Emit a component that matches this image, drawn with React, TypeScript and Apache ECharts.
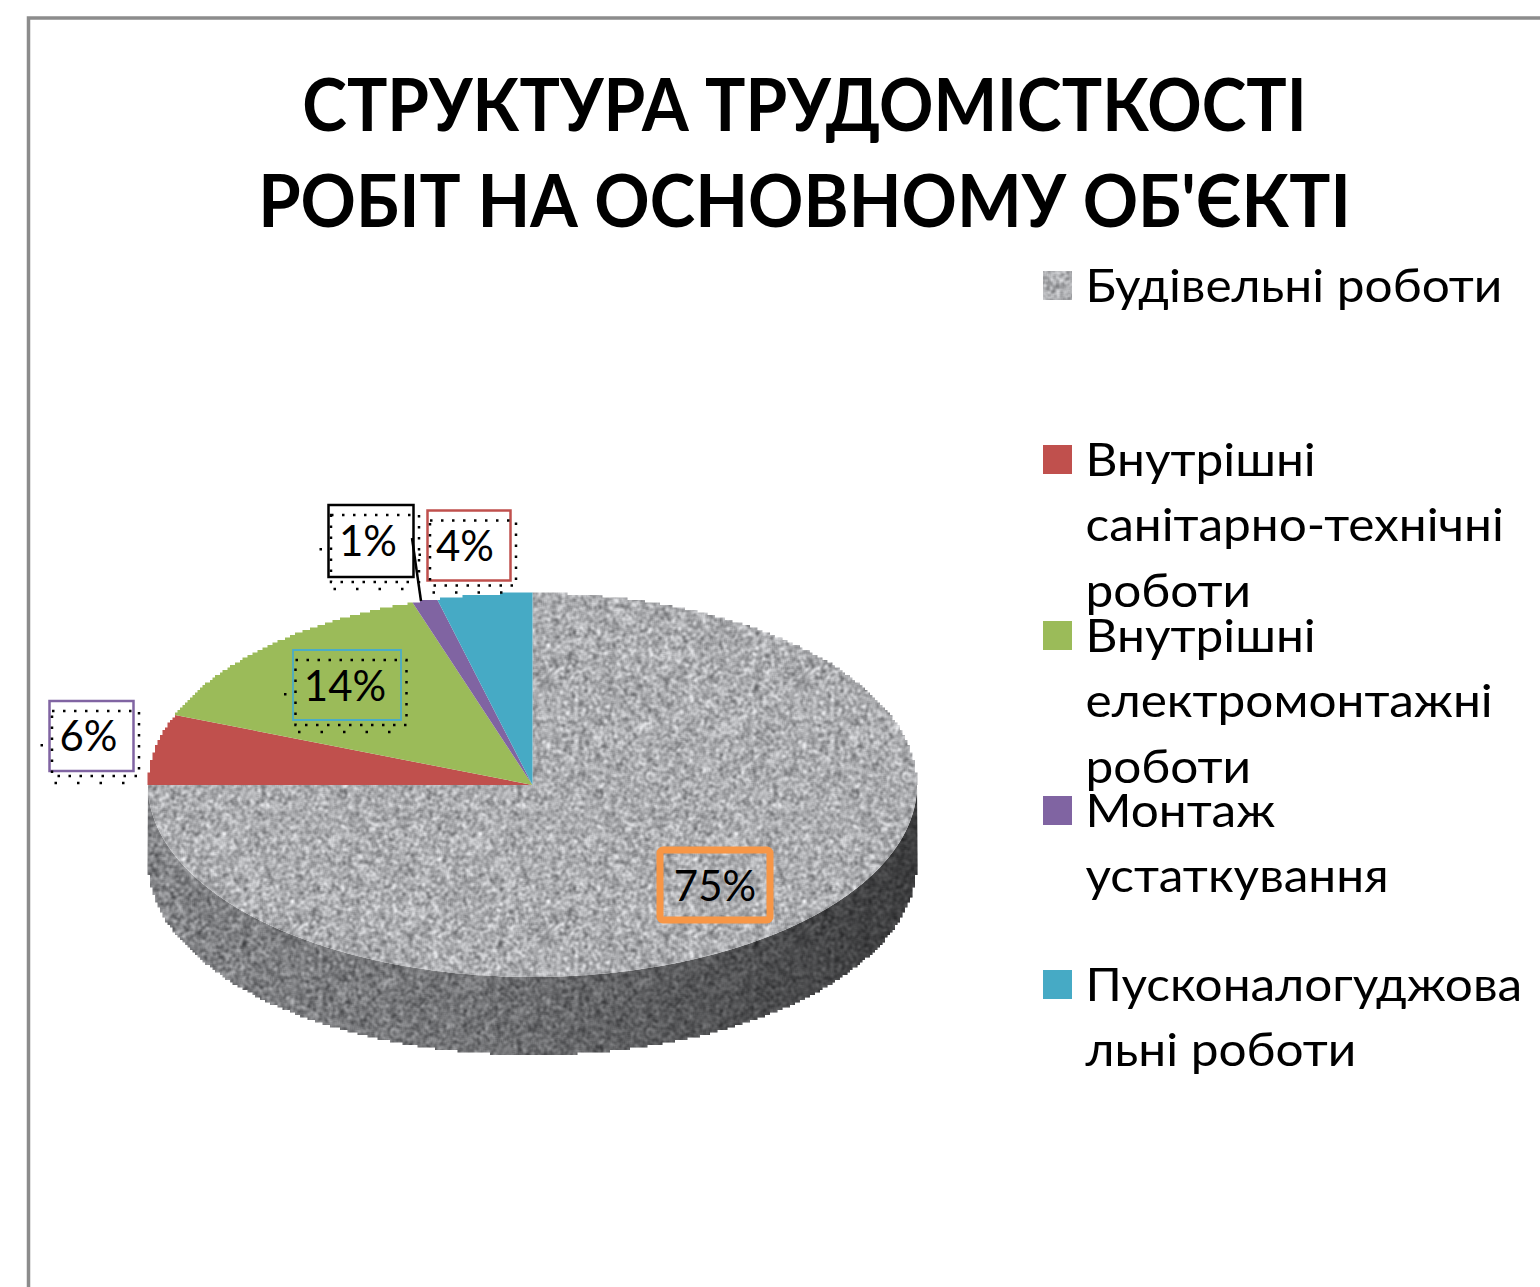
import React, { useEffect, useRef } from "react";
import * as echarts from "echarts";

const titleLines = ["СТРУКТУРА ТРУДОМІСТКОСТІ", "РОБІТ НА ОСНОВНОМУ ОБ'ЄКТІ"];
const categories = [
  ["Будівельні роботи"],
  ["Внутрішні", "санітарно-технічні", "роботи"],
  ["Внутрішні", "електромонтажні", "роботи"],
  ["Монтаж", "устаткування"],
  ["Пусконалогуджова", "льні роботи"],
];
const shares = [75, 6, 14, 1, 4];
const sliceColors = ["#a9abae", "#c0504d", "#9bbb59", "#8064a2", "#46aac5"];

// layout of the 3D pie
const CX = 532.5, CY = 785, RX = 384.5, RY = 192, DEPTH = 78;
// label boxes [x, y, w, h], in the order of shares
const labelBoxes = [
  [660, 850, 110, 70],
  [49.5, 701, 84, 70],
  [293, 650, 108, 70],
  [328.5, 505, 85, 72],
  [427.5, 510.5, 83, 70],
];
const labelStroke = ["#f79646", "#8064a2", "#4bacc6", "#000000", "#c0504d"];
const labelStrokeW = [7, 2.5, 1.8, 2.5, 2.5];
const labelOffset = [[0, 0], [-3, -1], [-2, 0], [-3, -1], [-4, -1]];

const legendTop = [271, 445, 621, 796, 970];
const legendLineStep = 65.5;

function noiseUrl(size: number, mean: number, spread: number, passes: number) {
  const n = size * size;
  let a = new Float32Array(n);
  let s = 0x2f6e2b1;
  for (let i = 0; i < n; i++) {
    s ^= s << 13; s ^= s >>> 17; s ^= s << 5;
    a[i] = ((s >>> 0) % 1000) / 1000;
  }
  for (let p = 0; p < passes; p++) {
    const b = new Float32Array(n);
    for (let y = 0; y < size; y++) for (let x = 0; x < size; x++) {
      let t = 0;
      for (let dy = -1; dy <= 1; dy++) for (let dx = -1; dx <= 1; dx++) {
        t += a[((y + dy + size) % size) * size + (x + dx + size) % size];
      }
      b[y * size + x] = t / 9;
    }
    a = b;
  }
  let m = 0, sd = 0;
  a.forEach((v) => { m += v; });
  m /= n;
  a.forEach((v) => { sd += (v - m) * (v - m); });
  sd = Math.sqrt(sd / n);
  const c = document.createElement("canvas");
  c.width = c.height = size;
  const ctx = c.getContext("2d")!;
  const img = ctx.createImageData(size, size);
  for (let i = 0; i < n; i++) {
    const v = mean + ((a[i] - m) / sd) * spread;
    img.data[i * 4] = v; img.data[i * 4 + 1] = v + 1; img.data[i * 4 + 2] = v + 4; img.data[i * 4 + 3] = 255;
  }
  ctx.putImageData(img, 0, 0);
  return c.toDataURL();
}

function pt(deg: number, dy = 0) {
  const r = (deg * Math.PI) / 180;
  return [CX + RX * Math.sin(r), CY - RY * Math.cos(r) + dy];
}
function arc(from: number, to: number, dy = 0) {
  const pts: number[][] = [];
  const steps = Math.max(2, Math.ceil(Math.abs(to - from) * 2));
  for (let i = 0; i <= steps; i++) pts.push(pt(from + ((to - from) * i) / steps, dy));
  return pts;
}
// the reference's outer rim is pixelated: snap the arc to a coarse grid as a staircase
function stairs(points: number[][], grid = 2.5) {
  const out: number[][] = [];
  points.forEach((p) => {
    const q = [Math.round(p[0] / grid) * grid, Math.round(p[1] / grid) * grid];
    const last = out[out.length - 1];
    if (!last) { out.push(q); return; }
    if (last[0] === q[0] && last[1] === q[1]) return;
    out.push([q[0], last[1]]);
    out.push(q);
  });
  return out;
}
function fineArc(from: number, to: number, dy = 0) {
  const pts: number[][] = [];
  const steps = Math.max(4, Math.ceil(Math.abs(to - from) * 6));
  for (let i = 0; i <= steps; i++) pts.push(pt(from + ((to - from) * i) / steps, dy));
  return pts;
}

const FONT = "Lato, Carlito, 'Noto Sans', sans-serif";

export default function App() {
  const ref = useRef<HTMLDivElement>(null);
  useEffect(() => {
    document.body.style.margin = "0";
    const chart = echarts.init(ref.current!, undefined, { renderer: "svg" });
    const topTex = { image: noiseUrl(256, 172, 18, 2), repeat: "repeat", imageWidth: 256, imageHeight: 256 };
    const wallTex = { image: noiseUrl(256, 132, 16, 2), repeat: "repeat", imageWidth: 256, imageHeight: 256 };

    let cum = 0;
    const sliceData = shares.map((v) => { const d = [v, cum]; cum += v; return d; });

    const titleScale = [0.937, 0.953];
    const graphics: any[] = [
      { type: "polyline", shape: { points: [[28.5, 1287], [28.5, 18], [1540, 18]] }, style: { stroke: "#8c8c8c", lineWidth: 3.5, fill: "none" } },
      ...titleLines.map((t, i) => ({
        type: "text", x: 804.5, y: i === 0 ? 103 : 199, scaleX: titleScale[i],
        style: { text: t, font: `bold 72px ${FONT}`, fill: "#000", textAlign: "center", textVerticalAlign: "middle" },
      })),
    ];
    categories.forEach((lines, i) => {
      graphics.push({
        type: "rect",
        shape: { x: 1043, y: legendTop[i], width: 29, height: 29 },
        style: { fill: i === 0 ? topTex : sliceColors[i] },
      });
      lines.forEach((l, j) => {
        graphics.push({
          type: "text", x: 1085.5, y: legendTop[i] + 12.5 + j * legendLineStep, scaleX: 1.055,
          style: { text: l, font: `47px ${FONT}`, fill: "#000", textAlign: "left", textVerticalAlign: "middle" },
        });
      });
    });

    const option: any = {
      animation: false,
      backgroundColor: "#fff",
      graphic: graphics,
      series: [
        {
          type: "custom",
          name: "slices",
          coordinateSystem: "none",
          silent: true,
          data: sliceData,
          renderItem: (params: any, api: any) => {
            const v = api.value(0), start = api.value(1);
            const a0 = (start / 100) * 360, a1 = ((start + v) / 100) * 360;
            const children: any[] = [];
            if (params.dataIndex === 0) {
              const wall = [...arc(90, 270), ...stairs(fineArc(270, 90, DEPTH))];
              children.push({ type: "polygon", shape: { points: wall }, style: { fill: wallTex } });
              children.push({
                type: "polygon", shape: { points: wall },
                style: { fill: { type: "linear", x: 0, y: 0, x2: 1, y2: 0, colorStops: [
                  { offset: 0, color: "rgba(0,0,0,0)" },
                  { offset: 0.45, color: "rgba(0,0,0,0.14)" },
                  { offset: 0.75, color: "rgba(0,0,0,0.38)" },
                  { offset: 1, color: "rgba(0,0,0,0.55)" },
                ] } },
              });
            }
            // only the rim above the horizontal is seen against the white page
            const rim = params.dataIndex === 0
              ? [...stairs(fineArc(0, 90)), ...arc(90, 270)]
              : stairs(fineArc(a0, a1));
            children.push({
              type: "polygon",
              shape: { points: [[CX, CY], ...rim] },
              style: { fill: params.dataIndex === 0 ? topTex : sliceColors[params.dataIndex] },
            });
            return { type: "group", children };
          },
        },
        {
          type: "custom",
          name: "labels",
          coordinateSystem: "none",
          silent: true,
          z: 5,
          data: shares.map((v) => [v]),
          renderItem: (params: any, api: any) => {
            const i = params.dataIndex;
            const [x, y, w, h] = labelBoxes[i];
            const children: any[] = [];
            children.push({
              type: "rect", shape: { x, y, width: w, height: h, r: i === 0 ? 3 : 0 },
              style: { fill: i === 0 || i === 2 ? "none" : "#fff", stroke: labelStroke[i], lineWidth: labelStrokeW[i] },
            });
            if (i === 3) {
              children.push({ type: "line", shape: { x1: 412, y1: 538, x2: 421, y2: 601 }, style: { stroke: "#000", lineWidth: 2.5 } });
            }
            if (i !== 0) {
              const dotted = { stroke: "#000", lineWidth: 2.5, lineDash: [2.5, 8.5], fill: "none" };
              children.push({ type: "rect", shape: { x: x + 2.5, y: y + 10, width: w + 3, height: h - 5 }, style: dotted });
              children.push({ type: "line", shape: { x1: x + 5, y1: y + h + 12, x2: x + w, y2: y + h + 12 }, style: { stroke: "#000", lineWidth: 2.5, lineDash: [2.5, 20] } });
              children.push({ type: "rect", shape: { x: x - 9, y: y + 43, width: 2.5, height: 2.5 }, style: { fill: "#000" } });
            }
            children.push({
              type: "text", x: x + w / 2 + labelOffset[i][0], y: y + h / 2 + labelOffset[i][1],
              style: { text: `${api.value(0)}%`, font: `42px ${FONT}`, fill: "#000", textAlign: "center", textVerticalAlign: "middle" },
            });
            return { type: "group", children };
          },
        },
      ],
    };
    chart.setOption(option);
    return () => chart.dispose();
  }, []);
  return <div ref={ref} style={{ position: "absolute", left: 0, top: 0, width: 1540, height: 1287 }} />;
}
